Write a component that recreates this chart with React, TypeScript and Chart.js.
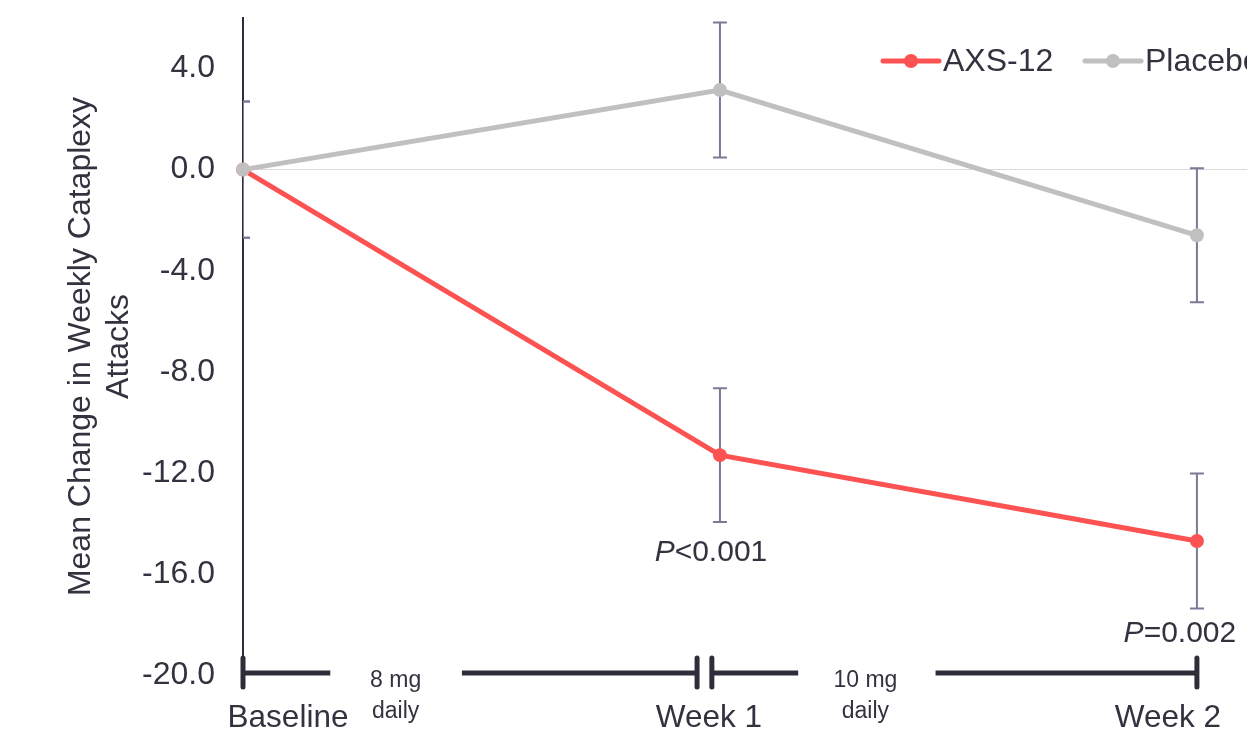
import { useEffect, useRef } from 'react';
import { Chart, registerables } from 'chart.js';

Chart.register(...registerables);

// ---- data ----
const categories = ['Baseline', 'Week 1', 'Week 2'];
const axsMean = [0, -11.3, -14.7];
const axsErr = [2.7, 2.65, 2.67];
const placeboMean = [0, 3.15, -2.6];
const placeboErr = [2.7, 2.67, 2.65];
const yTicks = [-20, -16, -12, -8, -4, 0, 4];
const seriesNames = ['AXS-12', 'Placebo'];
const pLabels = ['', '<0.001', '=0.002'];
const doseLabels = [['8 mg', 'daily'], ['10 mg', 'daily']];

// ---- style / layout ----
const FAMILY = '"Liberation Sans", Arial, Helvetica, sans-serif';
const TEXT = '#333340';
const RED = '#fd5252';
const GRAY = '#c0c0c0';
const ERR = '#7a7a98';
const AXIS = '#2e2e3a';
const catLabelOffsets = [45, -11, -29];
const pLabelOffsets = [0, -9, -17];
const pLabelDrop = [0, 31, 25];
const doseLabelX = [0.32, 1.305];
const bracketSegments = [[0, 0.183], [0.459, 0.952], [0.983, 1.164], [1.452, 2]];
const bracketTicks = [0, 0.952, 0.983, 2];
const legendX = [883, 1085];
const legendY = 61;

const overlay = {
  id: 'overlay',
  beforeDatasetsDraw(chart: any) {
    const { ctx, chartArea, scales } = chart;
    const x = scales.x;
    const y = scales.y;
    ctx.save();
    ctx.beginPath();
    ctx.rect(chartArea.left, chartArea.top - 10, chartArea.right - chartArea.left, chartArea.bottom - chartArea.top + 10);
    ctx.clip();
    ctx.strokeStyle = ERR;
    ctx.lineWidth = 2;
    const sets: [number[], number[]][] = [[axsMean, axsErr], [placeboMean, placeboErr]];
    sets.forEach(([m, e]) => {
      m.forEach((v, i) => {
        const px = x.getPixelForValue(i);
        const t = y.getPixelForValue(v + e[i]);
        const b = y.getPixelForValue(v - e[i]);
        ctx.beginPath();
        ctx.moveTo(px, t);
        ctx.lineTo(px, b);
        ctx.moveTo(px - 7, t);
        ctx.lineTo(px + 7, t);
        ctx.moveTo(px - 7, b);
        ctx.lineTo(px + 7, b);
        ctx.stroke();
      });
    });
    ctx.restore();
  },
  afterDatasetsDraw(chart: any) {
    const { ctx, scales } = chart;
    const x = scales.x;
    const y = scales.y;
    ctx.save();

    // dosing bracket
    const yb = y.getPixelForValue(-20) - 2;
    ctx.strokeStyle = AXIS;
    ctx.lineWidth = 5;
    ctx.lineCap = 'butt';
    bracketSegments.forEach(([a, b]) => {
      ctx.beginPath();
      ctx.moveTo(x.getPixelForValue(a), yb);
      ctx.lineTo(x.getPixelForValue(b), yb);
      ctx.stroke();
    });
    ctx.lineCap = 'round';
    bracketTicks.forEach((t) => {
      const px = x.getPixelForValue(t);
      ctx.beginPath();
      ctx.moveTo(px, yb - 15);
      ctx.lineTo(px, yb + 14);
      ctx.stroke();
    });

    // dose labels
    ctx.fillStyle = TEXT;
    ctx.textAlign = 'center';
    ctx.textBaseline = 'middle';
    ctx.font = `23px ${FAMILY}`;
    doseLabels.forEach((lines, i) => {
      const px = x.getPixelForValue(doseLabelX[i]);
      lines.forEach((ln, j) => {
        ctx.fillText(ln, px, yb + 8 + j * 31);
      });
    });

    // category labels
    ctx.font = `31.5px ${FAMILY}`;
    ctx.textBaseline = 'alphabetic';
    categories.forEach((c, i) => {
      ctx.fillText(c, x.getPixelForValue(i) + catLabelOffsets[i], 727);
    });

    // p-values
    ctx.textBaseline = 'middle';
    pLabels.forEach((p, i) => {
      if (!p) return;
      const low = y.getPixelForValue(axsMean[i] - axsErr[i]) + pLabelDrop[i];
      const cx = x.getPixelForValue(i) + pLabelOffsets[i];
      ctx.font = `italic 30px ${FAMILY}`;
      const wP = ctx.measureText('P').width;
      ctx.font = `30px ${FAMILY}`;
      const wR = ctx.measureText(p).width;
      const start = cx - (wP + wR) / 2;
      ctx.textAlign = 'left';
      ctx.font = `italic 30px ${FAMILY}`;
      ctx.fillText('P', start, low);
      ctx.font = `30px ${FAMILY}`;
      ctx.fillText(p, start + wP, low);
    });

    // legend
    const colors = [RED, GRAY];
    ctx.font = `32px ${FAMILY}`;
    ctx.textAlign = 'left';
    seriesNames.forEach((name, i) => {
      const lx = legendX[i];
      ctx.strokeStyle = colors[i];
      ctx.lineWidth = 5;
      ctx.lineCap = 'round';
      ctx.beginPath();
      ctx.moveTo(lx, legendY);
      ctx.lineTo(lx + 56, legendY);
      ctx.stroke();
      ctx.fillStyle = colors[i];
      ctx.beginPath();
      ctx.arc(lx + 28, legendY, 7, 0, Math.PI * 2);
      ctx.fill();
      ctx.fillStyle = TEXT;
      ctx.fillText(name, lx + 60, legendY + 1);
    });

    ctx.restore();
  },
};

export default function App() {
  const ref = useRef<HTMLCanvasElement | null>(null);

  useEffect(() => {
    if (!ref.current) return;
    const chart = new Chart(ref.current, {
      type: 'line',
      data: {
        datasets: [
          {
            label: seriesNames[0],
            data: axsMean.map((v, i) => ({ x: i, y: v })),
            borderColor: RED,
            backgroundColor: RED,
            pointBackgroundColor: RED,
            pointBorderColor: RED,
            borderWidth: 5,
            pointRadius: 7,
            pointBorderWidth: 0,
            tension: 0,
            clip: false,
            order: 1,
          },
          {
            label: seriesNames[1],
            data: placeboMean.map((v, i) => ({ x: i, y: v })),
            borderColor: GRAY,
            backgroundColor: GRAY,
            pointBackgroundColor: GRAY,
            pointBorderColor: GRAY,
            borderWidth: 5,
            pointRadius: 7,
            pointBorderWidth: 0,
            tension: 0,
            clip: false,
            order: 0,
          },
        ],
      } as any,
      options: {
        animation: false,
        responsive: false,
        layout: { autoPadding: false, padding: { top: 18, bottom: 54, left: 0, right: 0 } },
        plugins: {
          legend: { display: false },
          tooltip: { enabled: false },
        },
        scales: {
          x: { type: 'linear', min: 0, max: 2.105, display: false },
          y: {
            min: -20,
            max: 6,
            afterBuildTicks: (s: any) => {
              s.ticks = yTicks.map((v) => ({ value: v }));
            },
            afterFit: (s: any) => {
              s.width = 243;
              s.paddingTop = 0;
              s.paddingBottom = 0;
            },
            ticks: {
              padding: 28,
              color: TEXT,
              font: { family: FAMILY, size: 32, lineHeight: 1 },
              callback: (v: any) => Number(v).toFixed(1),
            },
            grid: {
              drawTicks: false,
              lineWidth: 1,
              color: (c: any) => (c.tick && c.tick.value === 0 ? '#dadada' : 'rgba(0,0,0,0)'),
            },
            border: { display: true, color: AXIS, width: 2 },
            title: {
              display: true,
              text: ['Mean Change in Weekly Cataplexy', 'Attacks'],
              color: TEXT,
              font: { family: FAMILY, size: 32, lineHeight: 1.2 },
              padding: { top: 62, bottom: 0 },
            },
          },
        },
      } as any,
      plugins: [overlay],
    });
    return () => chart.destroy();
  }, []);

  return (
    <div style={{ position: 'fixed', left: 0, top: 0, width: 1247, height: 729, background: '#fff' }}>
      <canvas ref={ref} width={1247} height={729} style={{ display: 'block' }} />
    </div>
  );
}
